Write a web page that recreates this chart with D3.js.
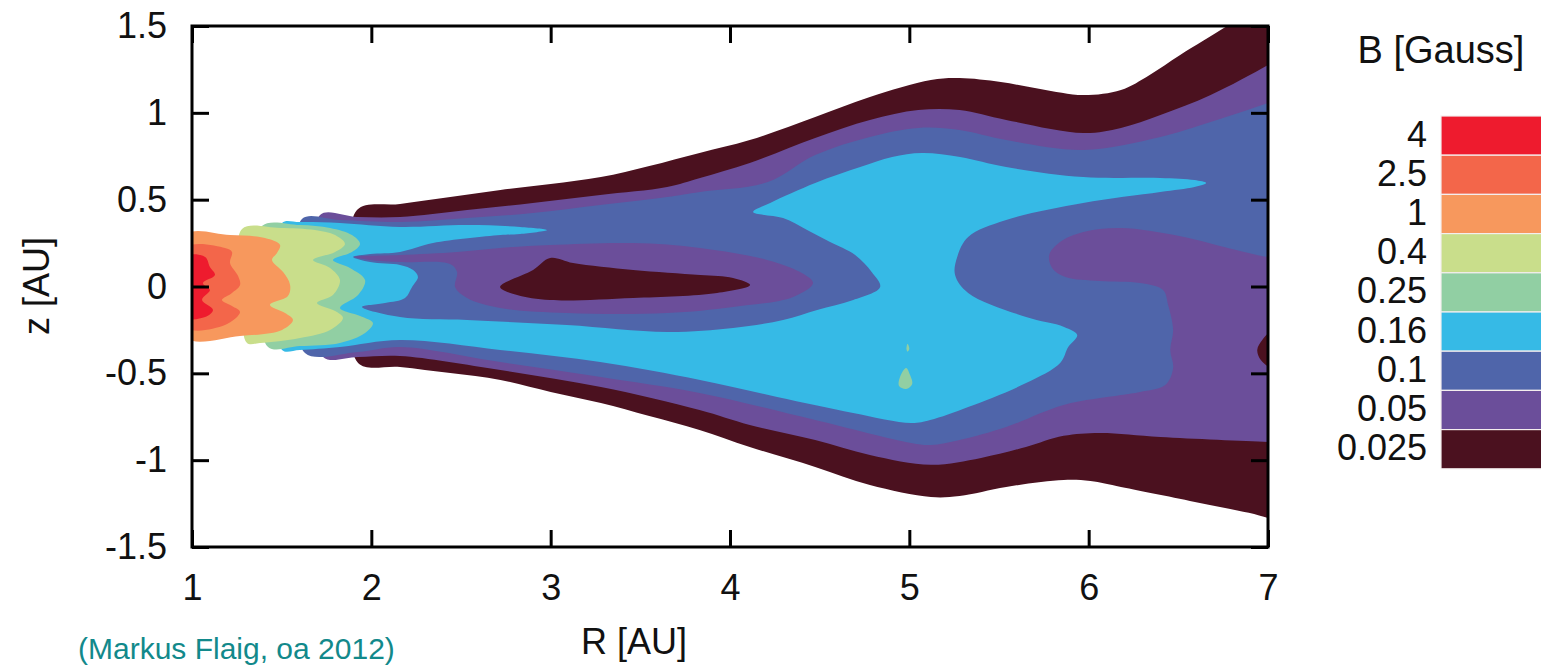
<!DOCTYPE html>
<html>
<head>
<meta charset="utf-8">
<script src="https://cdn.jsdelivr.net/npm/d3@7"></script>
<style>
  body { margin: 0; background: #fff; }
  svg { display: block; font-family: 'Liberation Sans', Arial, sans-serif; }
</style>
</head>
<body>
<div id="chart"></div>
<script>
// contour levels (legend, top to bottom) and their colours
const levels = ['4', '2.5', '1', '0.4', '0.25', '0.16', '0.1', '0.05', '0.025'];
const levelColors = ['#ee1b2e', '#f3664a', '#f7985d', '#c9de8b', '#91cfa3', '#36bae6', '#4f65aa', '#6b4e9a', '#4b111f'];

const xTicks = [1, 2, 3, 4, 5, 6, 7];
const yTicks = [-1.5, -1, -0.5, 0, 0.5, 1, 1.5];

// contour outlines, [R (AU), z (AU)]
const env0025 = [[1.92,0.44],[2.16,0.475],[2.44,0.515],[2.72,0.556],[3.0,0.59],[3.28,0.63],[3.55,0.694],[3.83,0.769],[4.11,0.843],[4.475,0.976],[4.78,1.091],[5.12,1.189],[5.28,1.2],[5.51,1.177],[5.73,1.137],[5.97,1.102],[6.18,1.131],[6.34,1.218],[6.51,1.333],[6.78,1.505],[7.0,1.65],[7.12,1.65],
  [7.12,-1.39],[7.0,-1.333],[6.62,-1.246],[6.18,-1.154],[6.01,-1.12],[5.86,-1.114],[5.54,-1.154],[5.28,-1.206],[5.12,-1.212],[4.78,-1.143],[4.475,-1.039],[4.11,-0.924],[3.83,-0.826],[3.55,-0.746],[3.28,-0.671],[3.0,-0.607],[2.72,-0.538],[2.44,-0.498],[2.16,-0.463],[1.926,-0.44],[1.9,0]];

const env005 = [[1.714,0.412],[1.92,0.4],[2.16,0.4],[2.534,0.44],[2.9,0.481],[3.276,0.527],[3.649,0.573],[3.833,0.625],[4.11,0.711],[4.475,0.855],[4.78,0.959],[5.05,1.016],[5.28,1.016],[5.54,0.959],[5.97,0.884],[6.18,0.913],[6.4,0.987],[6.68,1.102],[7.0,1.275],[7.12,1.35],
  [7.12,-0.9],[7.0,-0.895],[6.4,-0.866],[6.06,-0.843],[5.86,-0.86],[5.65,-0.924],[5.4,-0.987],[5.12,-1.027],[4.78,-0.97],[4.475,-0.884],[4.11,-0.797],[3.83,-0.711],[3.28,-0.579],[2.72,-0.481],[2.16,-0.4],[1.926,-0.406],[1.731,-0.406],[1.7,0]];

const env01 = [[1.613,0.389],[1.825,0.383],[2.16,0.371],[2.534,0.394],[2.9,0.423],[3.276,0.469],[3.649,0.515],[3.833,0.544],[4.207,0.6],[4.475,0.757],[4.78,0.861],[5.05,0.913],[5.28,0.901],[5.54,0.843],[5.97,0.786],[6.4,0.861],[6.68,0.947],[7.0,1.056],[7.12,1.1],
  [7.12,0.165],[7.0,0.17],[6.823,0.21],[6.505,0.291],[6.18,0.337],[5.97,0.314],[5.84,0.256],[5.78,0.181],[5.796,0.107],[5.87,0.055],[6.06,0.032],[6.287,0.02],[6.415,-0.02],[6.443,-0.106],[6.471,-0.25],[6.455,-0.365],[6.471,-0.469],[6.427,-0.567],[6.287,-0.607],[6.18,-0.625],[5.86,-0.682],[5.54,-0.809],[5.28,-0.884],[5.12,-0.913],[5.01,-0.901],[4.475,-0.769],[3.83,-0.613],[3.28,-0.521],[2.72,-0.435],[2.16,-0.348],[1.926,-0.377],[1.63,-0.383],[1.6,0]];

const env016 = [[1.502,0.366],[1.602,0.371],[1.825,0.366],[2.16,0.343],[2.534,0.354],[2.83,0.343],[2.98,0.325],[2.83,0.302],[2.72,0.296],[2.344,0.25],[2.16,0.199],[1.993,0.187],[1.898,0.17],[1.993,0.141],[2.16,0.124],[2.233,0.095],[2.26,0.055],[2.227,-0.003],[2.188,-0.066],[2.076,-0.095],[1.948,-0.118],
  [2.16,-0.176],[2.534,-0.193],[3.09,-0.222],[3.649,-0.262],[4.017,-0.239],[4.296,-0.193],[4.486,-0.135],[4.687,-0.078],[4.837,-0.003],[4.79,0.083],[4.698,0.181],[4.558,0.256],[4.43,0.325],[4.296,0.394],[4.129,0.429],
  [4.224,0.481],[4.475,0.596],[4.726,0.688],[4.904,0.746],[5.071,0.769],[5.283,0.746],[5.54,0.688],[5.969,0.63],[6.399,0.625],[6.59,0.613],[6.655,0.596],[6.59,0.573],[6.399,0.544],[5.969,0.481],[5.54,0.383],[5.328,0.285],[5.267,0.17],[5.255,0.066],[5.328,-0.037],
  [5.651,-0.176],[5.863,-0.233],[5.936,-0.279],[5.886,-0.348],[5.841,-0.44],[5.651,-0.556],[5.328,-0.694],[5.116,-0.769],[5.01,-0.786],[4.687,-0.728],[4.263,-0.636],[3.833,-0.538],[3.276,-0.435],[2.718,-0.365],[2.16,-0.308],[1.825,-0.348],[1.602,-0.365],[1.502,-0.365],[1.49,0]];

const env025 = [[1.39,0.348],[1.602,0.354],[1.77,0.337],[1.892,0.296],[1.937,0.245],[1.892,0.199],[1.786,0.153],[1.881,0.107],[1.965,0.037],[1.926,-0.049],[1.825,-0.124],[1.937,-0.17],[2.009,-0.21],[1.965,-0.268],[1.825,-0.325],[1.602,-0.343],[1.424,-0.348],[1.39,0]];

const env04 = [[1.279,0.331],[1.491,0.337],[1.686,0.325],[1.798,0.296],[1.853,0.245],[1.798,0.199],[1.675,0.153],[1.77,0.107],[1.825,0.037],[1.786,-0.049],[1.697,-0.095],[1.798,-0.141],[1.842,-0.181],[1.77,-0.25],[1.602,-0.296],[1.379,-0.325],[1.307,-0.325],[1.279,0]];

const env1 = [[0.96,0.296],[1.212,0.296],[1.407,0.279],[1.491,0.239],[1.474,0.193],[1.446,0.153],[1.508,0.083],[1.547,0.009],[1.535,-0.055],[1.435,-0.106],[1.519,-0.153],[1.563,-0.193],[1.502,-0.25],[1.268,-0.285],[0.96,-0.291]];

const env25 = [[0.96,0.222],[1.184,0.222],[1.223,0.199],[1.212,0.135],[1.257,0.06],[1.268,0.009],[1.223,-0.037],[1.167,-0.078],[1.223,-0.112],[1.268,-0.147],[1.184,-0.222],[0.96,-0.233]];

const env4 = [[0.96,0.17],[1.073,0.17],[1.1,0.112],[1.128,0.066],[1.061,0.02],[1.1,-0.02],[1.056,-0.078],[1.117,-0.135],[1.073,-0.176],[0.96,-0.176]];

// islands sitting inside higher levels
const island005 = [[1.909,0.17],[2.16,0.181],[2.478,0.199],[2.718,0.222],[2.997,0.239],[3.46,0.25],[3.833,0.222],[4.207,0.153],[4.391,0.083],[4.463,0.02],[4.352,-0.06],[4.017,-0.118],[3.649,-0.153],[3.09,-0.153],[2.718,-0.124],[2.534,-0.066],[2.467,-0.003],[2.478,0.083],[2.439,0.13],[2.16,0.141],[1.993,0.153]];
const island0025 = [[2.718,-0.003],[2.902,0.095],[2.997,0.164],[3.125,0.135],[3.46,0.095],[3.833,0.066],[4.017,0.049],[4.112,0.009],[3.928,-0.037],[3.46,-0.066],[2.997,-0.078],[2.813,-0.049]];
const spot025 = [[4.982,-0.469],[5.004,-0.51],[5.016,-0.561],[4.982,-0.59],[4.943,-0.573],[4.948,-0.521]];
const spot025b = [[4.99,-0.33],[5.0,-0.36],[4.99,-0.375],[4.984,-0.36]];
const edge0025 = [[7.01,-0.268],[6.968,-0.308],[6.94,-0.365],[6.96,-0.423],[7.01,-0.46]];

const layers = [
  { pts: env0025, lev: '0.025' },
  { pts: env005, lev: '0.05' },
  { pts: env01, lev: '0.1' },
  { pts: env016, lev: '0.16' },
  { pts: env025, lev: '0.25' },
  { pts: env04, lev: '0.4' },
  { pts: env1, lev: '1' },
  { pts: env25, lev: '2.5' },
  { pts: env4, lev: '4' },
  { pts: island005, lev: '0.05' },
  { pts: island0025, lev: '0.025' },
  { pts: spot025, lev: '0.25' },
  { pts: spot025b, lev: '0.25' },
  { pts: edge0025, lev: '0.025' }
];

const W = 1541, H = 667;
const m = { left: 192, right: 1268, top: 26, bottom: 547 };

const svg = d3.select('#chart').append('svg')
  .attr('width', W).attr('height', H);

const x = d3.scaleLinear().domain([1, 7]).range([m.left, m.right]);
const y = d3.scaleLinear().domain([-1.5, 1.5]).range([m.bottom, m.top]);
const color = d3.scaleOrdinal().domain(levels).range(levelColors);

svg.append('clipPath').attr('id', 'plotclip')
  .append('rect')
  .attr('x', m.left).attr('y', m.top)
  .attr('width', m.right - m.left).attr('height', m.bottom - m.top);

const line = d3.line()
  .x(d => x(d[0]))
  .y(d => y(d[1]))
  .curve(d3.curveCatmullRomClosed.alpha(0.5));

svg.append('g').attr('clip-path', 'url(#plotclip)')
  .selectAll('path')
  .data(layers)
  .join('path')
  .attr('d', d => line(d.pts))
  .attr('fill', d => color(d.lev));

// axes: ticks point inward on all four sides
const tickLen = 17;
const fs = 36;

const xAxisB = d3.axisBottom(x).tickValues(xTicks).tickSize(-tickLen).tickPadding(21).tickFormat(d => String(d));
const xAxisT = d3.axisTop(x).tickValues(xTicks).tickSize(-tickLen).tickFormat('');
const yAxisL = d3.axisLeft(y).tickValues(yTicks).tickSize(-tickLen).tickPadding(25).tickFormat(d => String(d));
const yAxisR = d3.axisRight(y).tickValues(yTicks).tickSize(-tickLen).tickFormat('');

const styleAxis = g => {
  g.select('.domain').remove();
  g.selectAll('line').attr('stroke', '#000').attr('stroke-width', 3);
  g.selectAll('text').attr('font-size', fs).attr('fill', '#111').attr('font-family', "'Liberation Sans', Arial, sans-serif");
};

svg.append('g').attr('transform', `translate(0,${m.bottom})`).call(xAxisB).call(styleAxis)
  .selectAll('text').attr('dy', '0.9em');
svg.append('g').attr('transform', `translate(0,${m.top})`).call(xAxisT).call(styleAxis);
svg.append('g').attr('transform', `translate(${m.left},0)`).call(yAxisL).call(styleAxis);
svg.append('g').attr('transform', `translate(${m.right},0)`).call(yAxisR).call(styleAxis);

svg.append('rect')
  .attr('x', m.left).attr('y', m.top)
  .attr('width', m.right - m.left).attr('height', m.bottom - m.top)
  .attr('fill', 'none').attr('stroke', '#000').attr('stroke-width', 3);

// axis titles
svg.append('text')
  .attr('transform', 'translate(49,286) rotate(-90)')
  .attr('text-anchor', 'middle')
  .attr('font-size', fs).attr('fill', '#111')
  .text('z [AU]');

svg.append('text')
  .attr('x', 634).attr('y', 654)
  .attr('text-anchor', 'middle')
  .attr('font-size', fs).attr('fill', '#111')
  .text('R [AU]');

svg.append('text')
  .attr('x', 78).attr('y', 659)
  .attr('font-size', 30).attr('fill', '#12898b')
  .text('(Markus Flaig, oa 2012)');

// colour key
const key = svg.append('g');
key.append('text')
  .attr('x', 1441).attr('y', 63)
  .attr('text-anchor', 'middle')
  .attr('font-size', 38).attr('fill', '#111')
  .text('B [Gauss]');

const keyTop = 116, keyH = 39.2;
const keyRows = key.selectAll('g.row')
  .data(levels)
  .join('g').attr('class', 'row')
  .attr('transform', (d, i) => `translate(0,${keyTop + i * keyH})`);

keyRows.append('rect')
  .attr('x', 1441).attr('width', 120).attr('height', keyH)
  .attr('fill', d => color(d))
  .attr('stroke', '#f4eeee').attr('stroke-width', 1.2);

keyRows.append('text')
  .attr('x', 1427).attr('y', keyH / 2 + 11)
  .attr('text-anchor', 'end')
  .attr('font-size', fs).attr('fill', '#111')
  .text(d => d);
</script>
</body>
</html>
